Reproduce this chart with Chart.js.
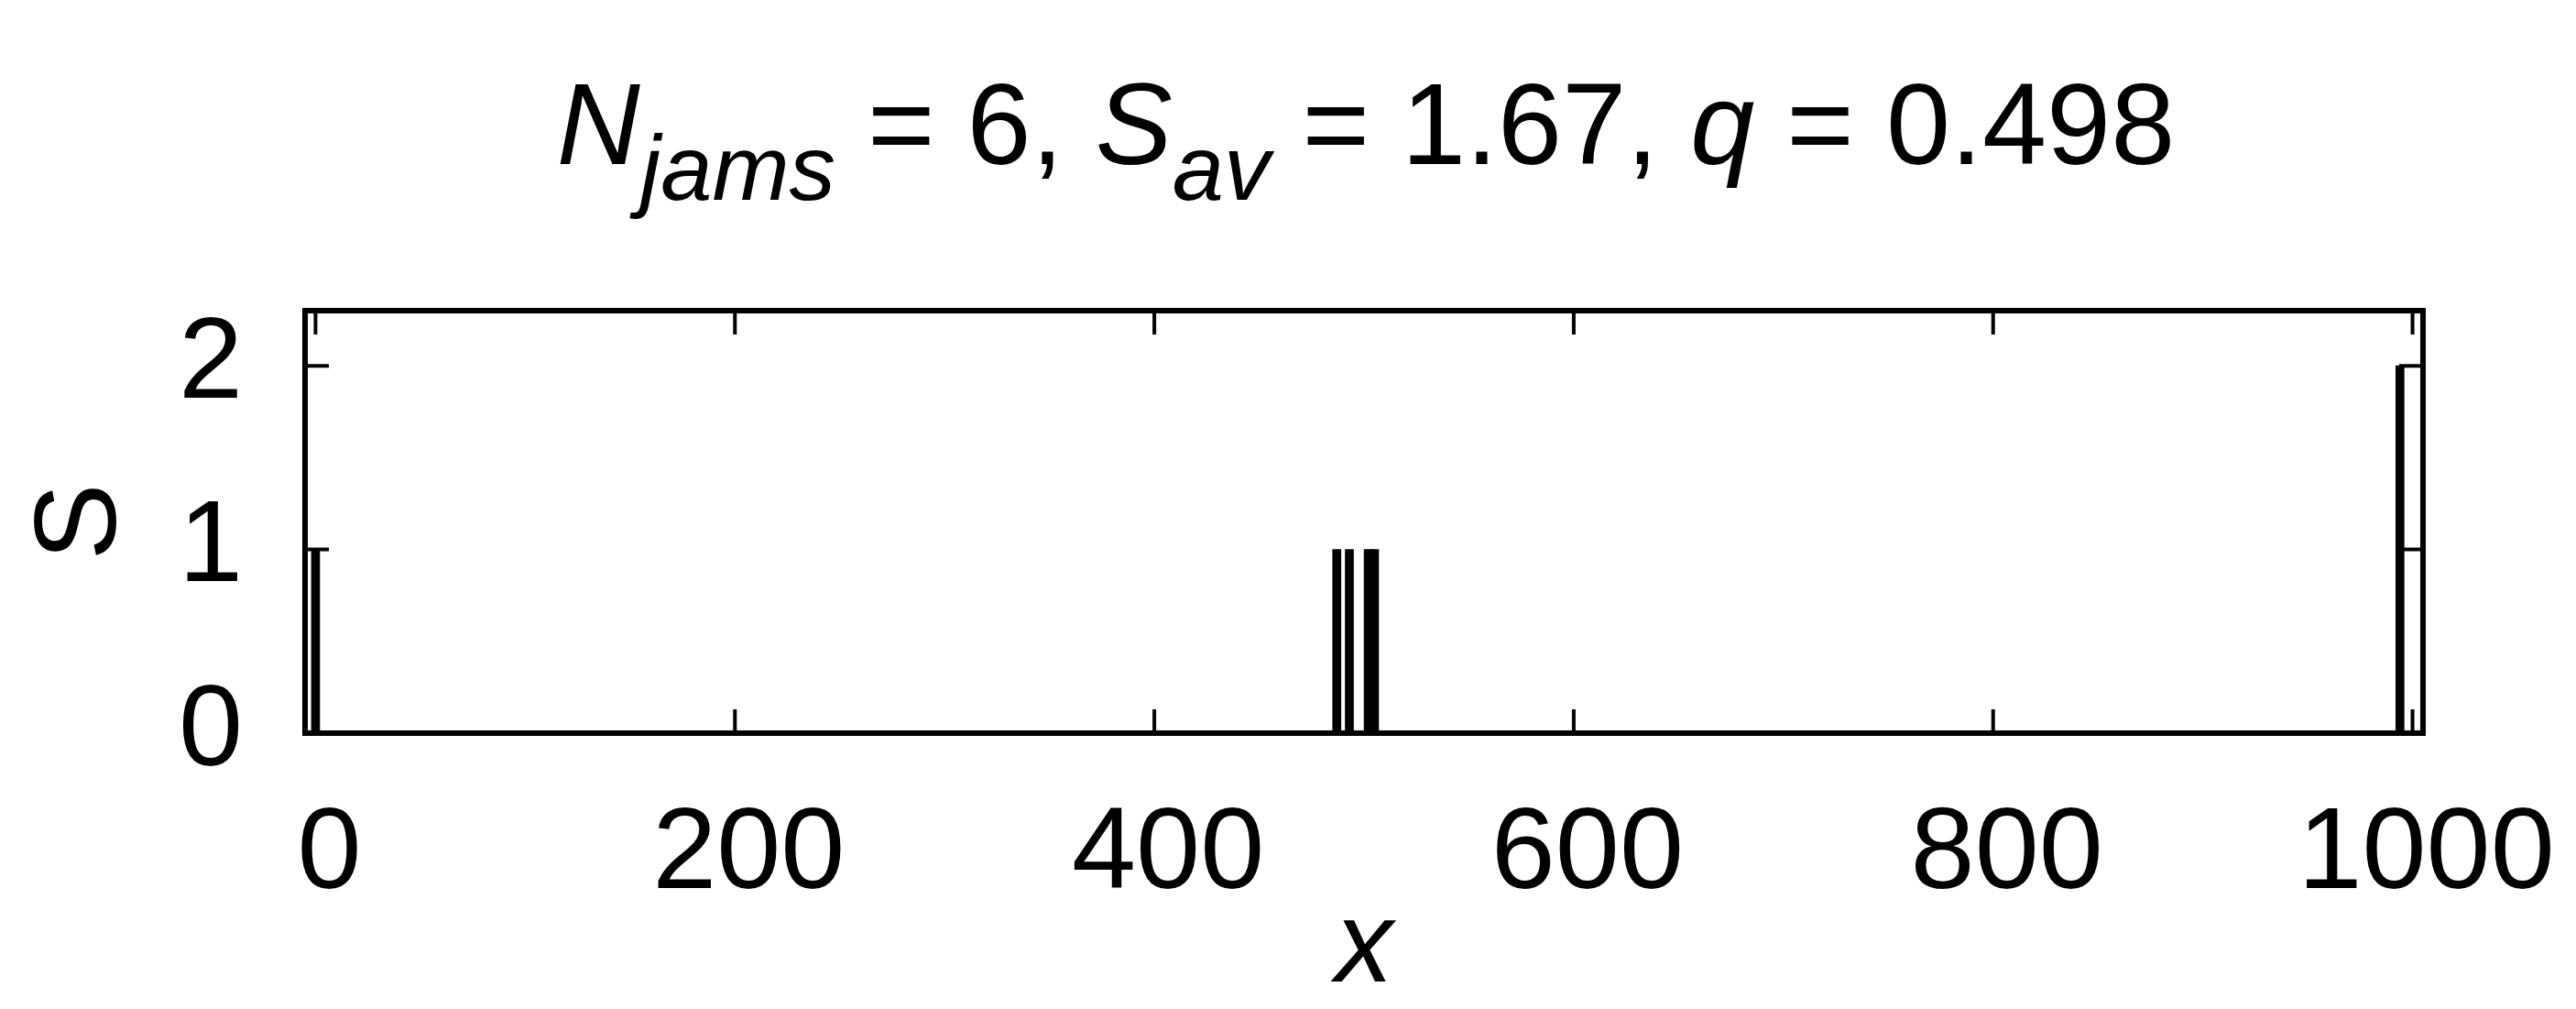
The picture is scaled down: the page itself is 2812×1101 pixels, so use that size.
<!DOCTYPE html>
<html>
<head>
<meta charset="utf-8">
<script src="https://cdn.jsdelivr.net/npm/chart.js@4/dist/chart.umd.min.js"></script>
<style>
  html, body { margin: 0; padding: 0; background: #fff; }
  canvas { display: block; }
</style>
</head>
<body>
<canvas id="jams" width="2812" height="1101"></canvas>
<script>
// jam positions on the road and their sizes
const positions = [0, 487, 493, 502, 505, 994];
const sizes = [1, 1, 1, 1, 1, 2];
const xTicks = [0, 200, 400, 600, 800, 1000];
const yTicks = [0, 1, 2];

const family = "'Liberation Sans', Arial, Helvetica, sans-serif";
const fontSize = 126;

// title with italic subscripts, drawn piece by piece
const titleParts = [
    {text: 'N', italic: true},
    {text: 'jams', italic: true, sub: true},
    {text: ' = 6, '},
    {text: 'S', italic: true},
    {text: 'av', italic: true, sub: true},
    {text: ' = 1.67, '},
    {text: 'q', italic: true},
    {text: ' = 0.498'}
];

function partFont(p) {
    let size = p.sub ? Math.round(fontSize * 0.8) : fontSize;
    return (p.italic ? 'italic ' : '') + size + 'px ' + family;
}

const titlePlugin = {
    id: 'richTitle',
    afterDraw(chart) {
        let ctx = chart.ctx;
        ctx.save();
        ctx.fillStyle = '#000';
        ctx.textBaseline = 'alphabetic';
        ctx.textAlign = 'left';
        let total = 0;
        titleParts.forEach(function (p) {
            ctx.font = partFont(p);
            p.w = ctx.measureText(p.text).width;
            total += p.w;
        });
        let x = 1491 - total / 2;
        let base = 179;
        titleParts.forEach(function (p) {
            ctx.font = partFont(p);
            ctx.fillText(p.text, x, p.sub ? base + 39 : base);
            x += p.w;
        });
        ctx.restore();
    }
};

// box round the plot and inward ticks on all four sides
const framePlugin = {
    id: 'frame',
    afterDatasetsDraw(chart) {
        let ctx = chart.ctx;
        let a = chart.chartArea;
        let xs = chart.scales.x, ys = chart.scales.y;
        ctx.save();
        ctx.strokeStyle = '#000';
        ctx.lineWidth = 4;
        ctx.beginPath();
        xTicks.forEach(function (v) {
            let px = xs.getPixelForValue(v);
            ctx.moveTo(px, a.bottom); ctx.lineTo(px, a.bottom - 26);
            ctx.moveTo(px, a.top); ctx.lineTo(px, a.top + 26);
        });
        yTicks.forEach(function (v) {
            let py = ys.getPixelForValue(v);
            ctx.moveTo(a.left, py); ctx.lineTo(a.left + 26, py);
            ctx.moveTo(a.right, py); ctx.lineTo(a.right - 26, py);
        });
        ctx.stroke();
        ctx.lineWidth = 6;
        ctx.strokeRect(a.left, a.top, a.right - a.left, a.bottom - a.top);
        ctx.restore();
    }
};

new Chart(document.getElementById('jams'), {
    type: 'bar',
    data: {
        datasets: [{
            data: positions.map(function (x, i) { return {x: x, y: sizes[i]}; }),
            backgroundColor: '#000',
            borderWidth: 0,
            barThickness: 9
        }]
    },
    options: {
        responsive: false,
        devicePixelRatio: 1,
        animation: false,
        layout: {padding: {left: 0, top: 339, right: 167, bottom: 0}},
        plugins: {
            legend: {display: false},
            tooltip: {enabled: false},
            title: {display: false}
        },
        scales: {
            x: {
                type: 'linear',
                min: -5,
                max: 1005,
                offset: false,
                grid: {display: false, drawTicks: false},
                border: {display: false},
                afterBuildTicks: function (s) { s.ticks = xTicks.map(function (v) { return {value: v}; }); },
                afterFit: function (s) {
                    s.height = 301;
                    s.paddingLeft = 0;
                    s.paddingRight = 0;
                },
                ticks: {
                    font: {family: family, size: fontSize},
                    color: '#000',
                    padding: 59,
                    labelOffset: 15,
                    maxRotation: 0,
                    autoSkip: false,
                    callback: function (v) { return String(v); }
                },
                title: {
                    display: true,
                    text: 'x',
                    color: '#000',
                    font: {family: family, size: fontSize, style: 'italic'},
                    padding: {top: 0, bottom: -11}
                }
            },
            y: {
                min: 0,
                max: 2.3,
                grid: {display: false, drawTicks: false},
                border: {display: false},
                afterBuildTicks: function (s) { s.ticks = yTicks.map(function (v) { return {value: v}; }); },
                afterFit: function (s) {
                    s.width = 333;
                    s.paddingTop = 0;
                    s.paddingBottom = 0;
                },
                ticks: {
                    font: {family: family, size: fontSize},
                    color: '#000',
                    padding: 68
                },
                title: {
                    display: true,
                    text: 'S',
                    color: '#000',
                    font: {family: family, size: fontSize},
                    padding: {top: 16, bottom: 0}
                }
            }
        }
    },
    plugins: [framePlugin, titlePlugin]
});
</script>
</body>
</html>
